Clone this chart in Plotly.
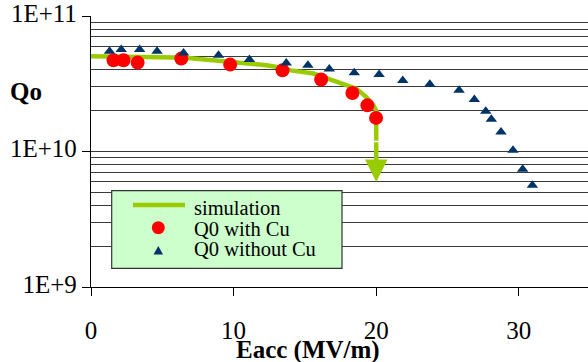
import math
import plotly.graph_objects as go

# ---------------- data ----------------
sim_x = [0, 3, 6, 7, 8.6, 11, 12.3, 13.3, 14, 15.6, 17.2, 18.6, 19.3, 19.8, 20, 20]
sim_q = [5.05e10, 5.03e10, 4.95e10, 4.88e10, 4.71e10, 4.46e10, 4.33e10, 4.16e10,
         3.97e10, 3.76e10, 3.26e10, 2.91e10, 2.52e10, 2.19e10, 2.0e10, 1.2e10]
sim_arrow_tip = 5.96e9

cu_x = [1.58, 2.28, 3.27, 6.33, 9.76, 13.43, 16.14, 18.33, 19.38, 19.99]
cu_q = [4.71e10, 4.71e10, 4.53e10, 4.85e10, 4.38e10, 3.97e10, 3.40e10, 2.70e10, 2.19e10, 1.77e10]

nocu_x = [1.30, 2.12, 3.41, 4.63, 6.49, 8.94, 11.11, 13.69, 15.21, 16.71, 18.46, 20.20,
          21.86, 23.76, 25.81, 26.88, 27.68, 28.07, 28.75, 29.59, 30.27, 30.95]
nocu_q = [5.49e10, 5.67e10, 5.65e10, 5.49e10, 5.33e10, 5.13e10, 4.77e10, 4.50e10, 4.33e10,
          4.06e10, 3.82e10, 3.70e10, 3.34e10, 3.13e10, 2.83e10, 2.42e10, 1.98e10, 1.73e10,
          1.39e10, 1.02e10, 7.39e9, 5.64e9]

x_ticks = [0, 10, 20, 30]
y_ticks = [1e9, 1e10, 1e11]
y_tick_text = ["1E+9", "1E+10", "1E+11"]
legend_names = ["simulation", "Q0 with Cu", "Q0 without Cu"]
x_title = "Eacc (MV/m)"
y_title = "Qo"

# ---------------- style ----------------
W, H = 588, 362
L, R, T, B = 91, 0, 16, 75
GREEN = "#99CC00"
RED = "#FF0000"
NAVY = "#003366"
FONT = "'Liberation Serif', 'Times New Roman', Times, serif"
GRID = "#3a3a3a"


def px(xp):
    return (xp - L) / (W - L - R)


def py(yp):
    return (H - B - yp) / (H - T - B)


fig = go.Figure()
fig.add_trace(go.Scatter(x=sim_x, y=sim_q, mode="lines", name=legend_names[0],
                         line=dict(color=GREEN, width=4.5), showlegend=False))
fig.add_trace(go.Scatter(x=cu_x, y=cu_q, mode="markers", name=legend_names[1],
                         marker=dict(color=RED, size=14, symbol="circle"), showlegend=False))
fig.add_trace(go.Scatter(x=nocu_x, y=nocu_q, mode="markers", name=legend_names[2],
                         marker=dict(color=NAVY, size=10, symbol="triangle-up"), showlegend=False))

fig.update_layout(
    width=W, height=H,
    margin=dict(l=L, r=R, t=T, b=B, pad=0),
    paper_bgcolor="white", plot_bgcolor="white",
    showlegend=False,
    font=dict(family=FONT, color="black"),
    xaxis=dict(range=[0, 34.85], tickvals=x_ticks, ticks="outside", ticklen=8,
               tickcolor="black", tickwidth=1, showline=True, linecolor="black",
               linewidth=1.3, showgrid=False, zeroline=False,
               tickfont=dict(family=FONT, size=25, color="black"),
               ticklabelstandoff=13),
    xaxis2=dict(range=[0, 34.85], tickvals=x_ticks, ticks="inside", ticklen=8,
                tickcolor="black", tickwidth=1, showticklabels=False, showline=False,
                showgrid=False, zeroline=False, overlaying="x", anchor="y", side="bottom"),
    yaxis=dict(type="log", range=[9, 11], tickvals=y_ticks, ticktext=y_tick_text,
               ticks="outside", ticklen=8, tickcolor="black", tickwidth=1,
               showline=True, linecolor="black", linewidth=1.3,
               showgrid=True, gridcolor=GRID, gridwidth=1.2,
               minor=dict(dtick="D1", showgrid=True, gridcolor=GRID, gridwidth=1.2, ticks=""),
               tickfont=dict(family=FONT, size=25, color="black"),
               ticklabelshift=-3, ticklabeloverflow="allow"),
)


def tri_path(cx, cy, w, h):
    pts = [(cx, cy - h / 2), (cx + w / 2, cy + h / 2), (cx - w / 2, cy + h / 2)]
    return "M " + " L ".join("%.5f,%.5f" % (px(a), py(b)) for a, b in pts) + " Z"


shapes = [
    dict(type="rect", xref="paper", yref="paper", x0=px(111.7), x1=px(342),
         y0=py(190.7), y1=py(268.3),
         fillcolor="#CCFFCC", line=dict(color="#333333", width=1.2), layer="above"),
    dict(type="line", xref="paper", yref="paper", x0=px(133), x1=px(185),
         y0=py(205), y1=py(205), line=dict(color=GREEN, width=4.5), layer="above"),
    dict(type="circle", xref="paper", yref="paper", x0=px(151.8), x1=px(164.8),
         y0=py(221.2), y1=py(234.2), fillcolor=RED, line=dict(width=0), layer="above"),
    dict(type="path", xref="paper", yref="paper", path=tri_path(158.3, 250.2, 9.5, 8.5),
         fillcolor=NAVY, line=dict(width=0), layer="above"),
]
fig.update_layout(shapes=shapes)

ann = []
rows = [207.5, 228.5, 248.5]
for name, yy in zip(legend_names, rows):
    ann.append(dict(text=name, xref="paper", yref="paper", x=px(191.7), y=py(yy),
                    xanchor="left", yanchor="middle", showarrow=False,
                    font=dict(family=FONT, size=20.5, color="black")))
ann.append(dict(text="<b>%s</b>" % y_title, xref="paper", yref="paper", x=px(26), y=py(91.5),
                xanchor="center", yanchor="middle", showarrow=False,
                font=dict(family=FONT, size=25, color="black")))
ann.append(dict(text="<b>%s</b>" % x_title, xref="paper", yref="paper", x=px(308.3), y=py(350),
                xanchor="center", yanchor="middle", showarrow=False,
                font=dict(family=FONT, size=25, color="black")))
# simulation arrow head
ann.append(dict(text="", xref="x", yref="y", x=sim_x[-1], y=math.log10(sim_arrow_tip),
                axref="x", ayref="y", ax=sim_x[-1], ay=math.log10(sim_q[-1]),
                showarrow=True, arrowhead=2, arrowsize=1, arrowwidth=4.5,
                arrowcolor=GREEN, standoff=0))
fig.update_layout(annotations=ann)

fig.write_html("out.html")
